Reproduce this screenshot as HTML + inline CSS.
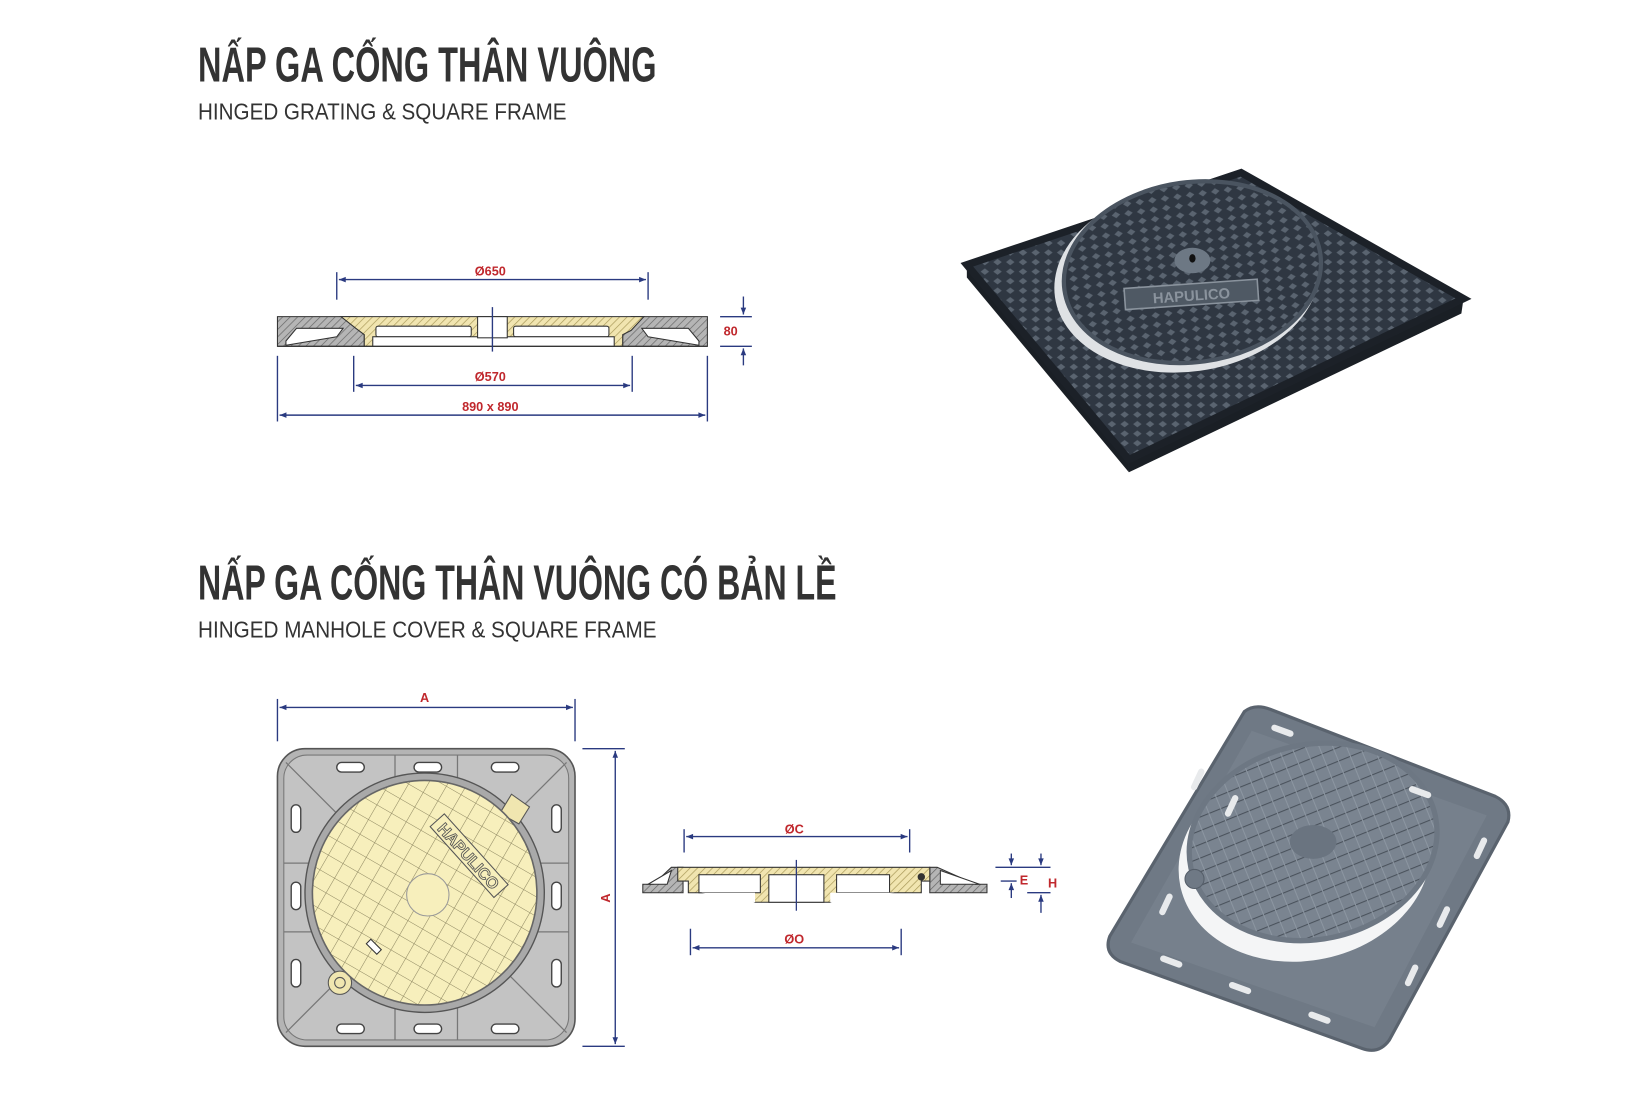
<!DOCTYPE html>
<html><head><meta charset="utf-8"><style>
html,body{margin:0;padding:0;background:#fff;}
svg{display:block}
</style></head><body>
<svg width="1652" height="1104" viewBox="0 0 1560 1042.5" preserveAspectRatio="none" xmlns="http://www.w3.org/2000/svg">
<defs>
<pattern id="hg" width="5" height="5" patternUnits="userSpaceOnUse" patternTransform="rotate(45)">
<rect width="5" height="5" fill="#b5b5b5"/><line x1="0" y1="0" x2="0" y2="5" stroke="#666" stroke-width="1.3"/></pattern>
<pattern id="hy" width="5" height="5" patternUnits="userSpaceOnUse" patternTransform="rotate(45)">
<rect width="5" height="5" fill="#f1e5b0"/><line x1="0" y1="0" x2="0" y2="5" stroke="#a99a5a" stroke-width="1.3"/></pattern>
<pattern id="dia" width="12" height="9" patternUnits="userSpaceOnUse">
<rect width="12" height="9" fill="#2f3742"/><path d="M6 1.5 L10 4.5 L6 7.5 L2 4.5Z" fill="#5a6470"/></pattern>
<pattern id="ydia" width="16" height="16" patternUnits="userSpaceOnUse" patternTransform="rotate(30)">
<rect width="16" height="16" fill="#f7efbc"/><path d="M0 0H16M0 0V16" stroke="#8d8660" stroke-width="1"/></pattern>
<pattern id="gline" width="12" height="12" patternUnits="userSpaceOnUse" patternTransform="rotate(80)">
<rect width="12" height="12" fill="#7a8490"/><line x1="0" y1="0" x2="0" y2="12" stroke="#4a525c" stroke-width="2"/><line x1="0" y1="6" x2="12" y2="6" stroke="#8c96a1" stroke-width="1"/></pattern>
<marker id="ar" viewBox="0 0 10 10" refX="10" refY="5" markerWidth="7" markerHeight="5" orient="auto-start-reverse"><path d="M0 1L10 5L0 9Z" fill="#2a3a80"/></marker>
</defs>

<g font-family="'Liberation Sans Narrow','Liberation Sans',sans-serif" fill="#333">
<text x="187" y="77" font-size="46" font-weight="bold" textLength="433" lengthAdjust="spacingAndGlyphs">NẤP GA CỐNG THÂN VUÔNG</text>
<text x="187" y="113" font-size="22" textLength="348" lengthAdjust="spacingAndGlyphs">HINGED GRATING  &amp; SQUARE FRAME</text>
<text x="187" y="566" font-size="46" font-weight="bold" textLength="603" lengthAdjust="spacingAndGlyphs">NẤP GA CỐNG THÂN VUÔNG CÓ BẢN LỀ</text>
<text x="187" y="602" font-size="22" textLength="433" lengthAdjust="spacingAndGlyphs">HINGED MANHOLE COVER  &amp; SQUARE FRAME</text>
</g>

<!-- Drawing 1 section -->
<g stroke="#2a3a80" stroke-width="1.3" fill="none">
<line x1="318" y1="257" x2="318" y2="283"/><line x1="612" y1="257" x2="612" y2="283"/>
<line x1="320" y1="264" x2="610" y2="264" marker-start="url(#ar)" marker-end="url(#ar)"/>
<line x1="334" y1="336" x2="334" y2="370"/><line x1="597" y1="336" x2="597" y2="370"/>
<line x1="336" y1="364" x2="595" y2="364" marker-start="url(#ar)" marker-end="url(#ar)"/>
<line x1="262" y1="336" x2="262" y2="398"/><line x1="668" y1="336" x2="668" y2="398"/>
<line x1="264" y1="392" x2="666" y2="392" marker-start="url(#ar)" marker-end="url(#ar)"/>
<line x1="680" y1="299" x2="710" y2="299"/><line x1="680" y1="327" x2="710" y2="327"/>
<line x1="702" y1="280" x2="702" y2="297" marker-end="url(#ar)"/><line x1="702" y1="345" x2="702" y2="329" marker-end="url(#ar)"/>
</g>
<g font-family="'Liberation Sans',sans-serif" font-weight="bold" font-size="12" fill="#c0282d" text-anchor="middle">
<text x="463" y="260">Ø650</text><text x="463" y="360">Ø570</text><text x="463" y="388">890 x 890</text><text x="690" y="317">80</text>
</g>
<g stroke="#333" stroke-width="1">
<path d="M262 299H336L344 316V327H262Z" fill="url(#hg)"/>
<path d="M668 299H596L588 316V327H668Z" fill="url(#hg)"/>
<path d="M322 299H608L596 312L588 316V327H344V316L336 310Z" fill="url(#hy)"/>
<path d="M270 326L318 318L324 310H280L270 322Z" fill="#fff"/>
<path d="M660 326L612 318L606 310H650L660 322Z" fill="#fff"/>
<rect x="355" y="308" width="90" height="10" rx="2" fill="#fff"/>
<rect x="485" y="308" width="90" height="10" rx="2" fill="#fff"/>
<rect x="352" y="318" width="228" height="9" fill="#fff"/>
<rect x="451" y="299" width="28" height="20" fill="#fff"/>
<line x1="262" y1="327" x2="668" y2="327"/>
</g>
<line x1="465" y1="290" x2="465" y2="332" stroke="#2a3a80" stroke-width="1.3"/>

<!-- Photo 1 -->
<path d="M913 250L1172 163L1382 282L1066 444Z" fill="url(#dia)"/>
<path d="M913 250L913 262L1066 446L1066 434Z" fill="#1a1f25"/>
<path d="M1066 434L1382 282L1380 296L1066 446Z" fill="#1a1f25"/>
<path d="M913 250L1172 163L1382 282L1066 434Z" fill="none" stroke="#1c2128" stroke-width="7"/>
<ellipse cx="1121" cy="263" rx="126" ry="88" transform="rotate(-8 1121 263)" fill="#dfe2e5"/>
<ellipse cx="1126" cy="257" rx="122" ry="85" transform="rotate(-8 1126 257)" fill="url(#dia)" stroke="#4a5460" stroke-width="4"/>
<ellipse cx="1126" cy="246" rx="17" ry="12" fill="#6d7884"/><ellipse cx="1126" cy="244" rx="3" ry="4" fill="#111"/>
<rect x="1062" y="268" width="126" height="20" transform="rotate(-4 1125 278)" fill="#4f5964" stroke="#8a939d" stroke-width="1.5"/>
<text x="1125" y="284" font-family="'Liberation Sans',sans-serif" font-weight="bold" font-size="14" fill="#8a939d" text-anchor="middle" transform="rotate(-4 1125 278)">HAPULICO</text>

<!-- Drawing 2 plan -->
<g stroke="#2a3a80" stroke-width="1.3" fill="none">
<line x1="262" y1="660" x2="262" y2="700"/><line x1="543" y1="660" x2="543" y2="700"/>
<line x1="264" y1="668" x2="541" y2="668" marker-start="url(#ar)" marker-end="url(#ar)"/>
<line x1="550" y1="707" x2="590" y2="707"/><line x1="550" y1="988" x2="590" y2="988"/>
<line x1="581" y1="709" x2="581" y2="986" marker-start="url(#ar)" marker-end="url(#ar)"/>
</g>
<text x="401" y="663" font-family="'Liberation Sans',sans-serif" font-weight="bold" font-size="12" fill="#c0282d" text-anchor="middle">A</text>
<text x="576" y="848" font-family="'Liberation Sans',sans-serif" font-weight="bold" font-size="12" fill="#c0282d" text-anchor="middle" transform="rotate(-90 576 848)">A</text>
<rect x="262" y="707" width="281" height="281" rx="26" fill="#b4b4b4" stroke="#555" stroke-width="1.5"/>
<rect x="268" y="713" width="269" height="269" rx="22" fill="#c3c3c3" stroke="#777" stroke-width="1"/>
<g stroke="#777" stroke-width="1.2">
<line x1="270" y1="720" x2="330" y2="780"/><line x1="535" y1="720" x2="475" y2="780"/>
<line x1="270" y1="975" x2="330" y2="915"/><line x1="535" y1="975" x2="475" y2="915"/>
<line x1="373" y1="713" x2="373" y2="745"/><line x1="432" y1="713" x2="432" y2="745"/>
<line x1="373" y1="982" x2="373" y2="950"/><line x1="432" y1="982" x2="432" y2="950"/>
<line x1="268" y1="815" x2="300" y2="815"/><line x1="268" y1="880" x2="300" y2="880"/>
<line x1="537" y1="815" x2="505" y2="815"/><line x1="537" y1="880" x2="505" y2="880"/>
</g>
<g fill="#fff" stroke="#444" stroke-width="1.3">
<rect x="318" y="720" width="26" height="9" rx="4.5"/><rect x="391" y="720" width="26" height="9" rx="4.5"/><rect x="464" y="720" width="26" height="9" rx="4.5"/>
<rect x="318" y="967" width="26" height="9" rx="4.5"/><rect x="391" y="967" width="26" height="9" rx="4.5"/><rect x="464" y="967" width="26" height="9" rx="4.5"/>
<rect x="275" y="760" width="9" height="26" rx="4.5"/><rect x="275" y="833" width="9" height="26" rx="4.5"/><rect x="275" y="906" width="9" height="26" rx="4.5"/>
<rect x="521" y="760" width="9" height="26" rx="4.5"/><rect x="521" y="833" width="9" height="26" rx="4.5"/><rect x="521" y="906" width="9" height="26" rx="4.5"/>
</g>
<circle cx="401" cy="843" r="113" fill="#a9a9a9" stroke="#555" stroke-width="1.3"/>
<path d="M472 768L483 750L500 762L490 778Z" fill="#f0e6b0" stroke="#555"/>
<circle cx="321" cy="928" r="11" fill="#f0e6b0" stroke="#555"/>
<circle cx="401" cy="843" r="106" fill="url(#ydia)" stroke="#666" stroke-width="1.5"/>
<circle cx="321" cy="928" r="5" fill="none" stroke="#555"/>
<circle cx="404" cy="845" r="20" fill="#f7efbc" stroke="#999"/>
<g transform="rotate(48 443 808)"><rect x="398" y="799" width="90" height="18" fill="#f7efbc" stroke="#555"/>
<text x="443" y="814" font-family="'Liberation Sans',sans-serif" font-weight="bold" font-size="15" fill="#f7efbc" stroke="#555" stroke-width="0.8" text-anchor="middle">HAPULICO</text></g>
<rect x="346" y="891" width="14" height="6" fill="#fff" stroke="#333" transform="rotate(45 353 894)"/>

<!-- Drawing 2 section -->
<g stroke="#2a3a80" stroke-width="1.3" fill="none">
<line x1="646" y1="783" x2="646" y2="805"/><line x1="859" y1="783" x2="859" y2="805"/>
<line x1="648" y1="790" x2="857" y2="790" marker-start="url(#ar)" marker-end="url(#ar)"/>
<line x1="652" y1="877" x2="652" y2="902"/><line x1="851" y1="877" x2="851" y2="902"/>
<line x1="654" y1="895" x2="849" y2="895" marker-start="url(#ar)" marker-end="url(#ar)"/>
<line x1="940" y1="819" x2="992" y2="819"/><line x1="945" y1="832" x2="960" y2="832"/><line x1="970" y1="843" x2="992" y2="843"/>
<line x1="955" y1="806" x2="955" y2="817" marker-end="url(#ar)"/><line x1="955" y1="848" x2="955" y2="834" marker-end="url(#ar)"/>
<line x1="983" y1="806" x2="983" y2="817" marker-end="url(#ar)"/><line x1="983" y1="862" x2="983" y2="845" marker-end="url(#ar)"/>
</g>
<g font-family="'Liberation Sans',sans-serif" font-weight="bold" font-size="12" fill="#c0282d" text-anchor="middle">
<text x="750" y="787">ØC</text><text x="750" y="891">ØO</text><text x="967" y="835">E</text><text x="994" y="838">H</text>
</g>
<g stroke="#333" stroke-width="1">
<path d="M607 843V835H617L634 819H645V843Z" fill="url(#hg)"/>
<path d="M932 843V835H921L885 819H878V843Z" fill="url(#hg)"/>
<path d="M612 835L634 822L630 835Z" fill="#fff"/>
<path d="M925 835L888 822V835Z" fill="#fff"/>
<path d="M640 819H878V832H870V843H800L784 852H713L697 843H650V832H640Z" fill="url(#hy)"/>
<rect x="660" y="826" width="58" height="17" fill="#fff"/>
<rect x="790" y="826" width="50" height="17" fill="#fff"/>
<rect x="726" y="826" width="52" height="26" fill="#fff"/>
<path d="M662 843L713 852V843Z M845 843L784 852V843Z" fill="#fff" stroke="none"/>
<circle cx="870" cy="828" r="3" fill="#333"/>
</g>
<line x1="752" y1="812" x2="752" y2="860" stroke="#2a3a80" stroke-width="1.2"/>

<!-- Photo 2 -->
<path d="M1175 672Q1185 664 1200 670L1412 752Q1428 760 1424 776L1312 982Q1302 996 1286 990L1058 908Q1042 900 1048 884Z" fill="#6f7985" stroke="#5a636e" stroke-width="3"/>
<path d="M1182 690L1404 770L1298 970L1068 890Z" fill="#79838f" opacity="0.7"/>
<ellipse cx="1232" cy="812" rx="120" ry="95" transform="rotate(-12 1232 812)" fill="#f4f5f6"/>
<ellipse cx="1240" cy="795" rx="118" ry="92" transform="rotate(-12 1240 795)" fill="url(#gline)" stroke="#6d7783" stroke-width="5"/>
<ellipse cx="1240" cy="795" rx="22" ry="16" fill="#6a7480"/>
<g fill="#e8eaec">
<rect x="1200" y="687" width="22" height="6" rx="3" transform="rotate(20 1211 690)"/>
<rect x="1330" y="745" width="22" height="6" rx="3" transform="rotate(20 1341 748)"/>
<rect x="1128" y="725" width="6" height="22" rx="3" transform="rotate(25 1131 736)"/>
<rect x="1160" y="750" width="6" height="22" rx="3" transform="rotate(25 1163 761)"/>
<rect x="1098" y="843" width="6" height="22" rx="3" transform="rotate(25 1101 854)"/>
<rect x="1360" y="855" width="6" height="22" rx="3" transform="rotate(25 1363 866)"/>
<rect x="1330" y="910" width="6" height="22" rx="3" transform="rotate(25 1333 921)"/>
<rect x="1395" y="790" width="6" height="22" rx="3" transform="rotate(25 1398 801)"/>
<rect x="1095" y="905" width="22" height="6" rx="3" transform="rotate(20 1106 908)"/>
<rect x="1160" y="930" width="22" height="6" rx="3" transform="rotate(20 1171 933)"/>
<rect x="1235" y="958" width="22" height="6" rx="3" transform="rotate(20 1246 961)"/>
</g>
<circle cx="1128" cy="830" r="9" fill="#6f7985" stroke="#555e69"/>
</svg>
</body></html>
